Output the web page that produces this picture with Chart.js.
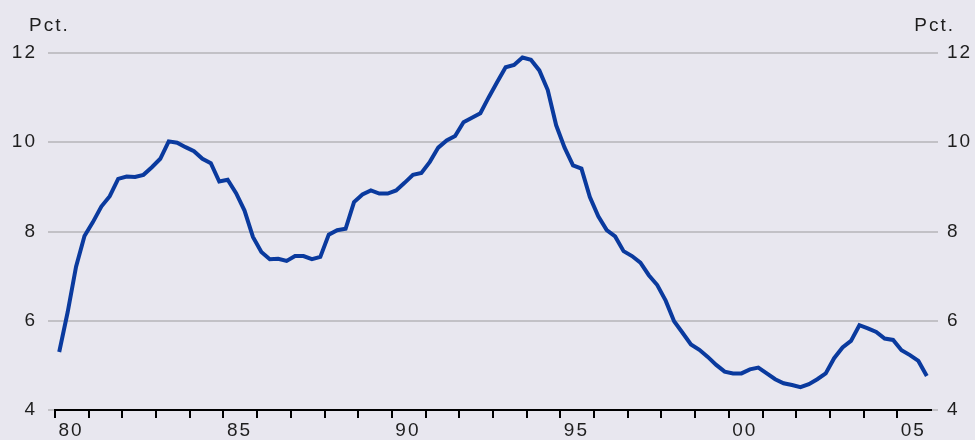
<!DOCTYPE html>
<html>
<head>
<meta charset="utf-8">
<script src="https://cdn.jsdelivr.net/npm/chart.js@4"></script>
<style>
  html, body { margin: 0; padding: 0; background: #e8e7ef; }
  #wrap { width: 975px; height: 440px; position: relative; }
</style>
</head>
<body>
<div id="wrap"><canvas id="c" width="975" height="440"></canvas></div>
<script>
// Quarterly values (pct.), one row per year, Q1..Q4
const years = [1980,1981,1982,1983,1984,1985,1986,1987,1988,1989,1990,1991,1992,1993,1994,1995,1996,1997,1998,1999,2000,2001,2002,2003,2004,2005];
const rates = [
  [5.30, 6.19, 7.21, 7.90],
  [8.21, 8.56, 8.79, 9.18],
  [9.23, 9.22, 9.27, 9.44],
  [9.63, 10.02, 9.99, 9.89],
  [9.80, 9.63, 9.53, 9.12],
  [9.16, 8.86, 8.47, 7.88],
  [7.54, 7.38, 7.39, 7.34],
  [7.45, 7.45, 7.38, 7.43],
  [7.93, 8.03, 8.06, 8.66],
  [8.83, 8.92, 8.85, 8.85],
  [8.92, 9.09, 9.27, 9.31],
  [9.56, 9.88, 10.04, 10.14],
  [10.45, 10.55, 10.65, 11.01],
  [11.35, 11.68, 11.73, 11.90],
  [11.85, 11.61, 11.17, 10.38],
  [9.88, 9.48, 9.41, 8.77],
  [8.34, 8.03, 7.89, 7.56],
  [7.45, 7.30, 7.02, 6.80],
  [6.45, 5.99, 5.73, 5.47],
  [5.35, 5.19, 5.01, 4.86],
  [4.82, 4.82, 4.91, 4.95],
  [4.82, 4.69, 4.60, 4.56],
  [4.51, 4.58, 4.69, 4.82],
  [5.16, 5.40, 5.55, 5.90],
  [5.83, 5.75, 5.60, 5.57],
  [5.34, 5.23, 5.10, 4.76]
];
const xTickLabels = {1980: '80', 1985: '85', 1990: '90', 1995: '95', 2000: '00', 2005: '05'};
const yTickValues = [4, 6, 8, 10, 12];
const unitLabel = 'Pct.';

const points = [];
years.forEach((y, i) => rates[i].forEach((v, q) => points.push({x: y + (q + 0.5) / 4, y: v})));

const FONT = 'Liberation Sans, Arial, Helvetica, sans-serif';
const TEXT = '#1e1e1e';
const GRID = '#c2c1c6';

const bgPlugin = {
  id: 'bg',
  beforeDraw(chart) {
    const ctx = chart.ctx;
    ctx.save();
    ctx.fillStyle = '#e8e7ef';
    ctx.fillRect(0, 0, chart.width, chart.height);
    ctx.restore();
    ctx.letterSpacing = '2px';
  },
  beforeLayout(chart) { chart.ctx.letterSpacing = '2px'; }
};

const unitPlugin = {
  id: 'unit',
  afterDraw(chart) {
    const ctx = chart.ctx;
    ctx.save();
    ctx.letterSpacing = '2px';
    ctx.font = '19px ' + FONT;
    ctx.fillStyle = TEXT;
    ctx.textBaseline = 'alphabetic';
    ctx.textAlign = 'left';
    ctx.fillText(unitLabel, 29, 31);
    ctx.textAlign = 'right';
    ctx.fillText(unitLabel, 955, 31);
    ctx.restore();
  }
};

const yTicksCommon = {
  min: 4, max: 12,
  afterBuildTicks(scale) { scale.ticks = yTickValues.map(v => ({value: v})); },
};

new Chart(document.getElementById('c'), {
  type: 'line',
  data: {
    datasets: [{
      data: points,
      borderColor: '#0a3a9e',
      borderWidth: 4,
      pointRadius: 0,
      tension: 0,
      fill: false
    }]
  },
  options: {
    responsive: false,
    animation: false,
    events: [],
    layout: { padding: { top: 53, bottom: 0, left: 0, right: 0 } },
    plugins: { legend: { display: false }, tooltip: { enabled: false }, title: { display: false } },
    scales: {
      x: {
        type: 'linear',
        min: 1980, max: 2006,
        afterBuildTicks(scale) {
          const t = [];
          for (let y = 1980; y <= 2005; y++) t.push({value: y});
          scale.ticks = t;
        },
        afterFit(scale) { scale.height = 30; },
        ticks: {
          autoSkip: false, maxRotation: 0, minRotation: 0,
          labelOffset: 16, padding: 1,
          color: TEXT, font: { family: FONT, size: 19 },
          callback: v => xTickLabels[v] || ''
        },
        grid: { drawOnChartArea: false, drawTicks: true, tickLength: 8, color: '#000', lineWidth: 2 },
        border: { display: true, color: '#000', width: 2 }
      },
      y: {
        position: 'left',
        ...yTicksCommon,
        afterFit(scale) { scale.width = 55; },
        ticks: { color: TEXT, font: { family: FONT, size: 19 }, padding: 11 },
        grid: { color: GRID, lineWidth: 2, tickLength: 7, drawTicks: true },
        border: { display: false }
      },
      y2: {
        position: 'right',
        ...yTicksCommon,
        afterFit(scale) { scale.width = 44; },
        ticks: { color: TEXT, font: { family: FONT, size: 19 }, padding: 9 },
        grid: { color: GRID, lineWidth: 2, tickLength: 7, drawTicks: true, drawOnChartArea: true },
        border: { display: false }
      }
    }
  },
  plugins: [bgPlugin, unitPlugin]
});
</script>
</body>
</html>
